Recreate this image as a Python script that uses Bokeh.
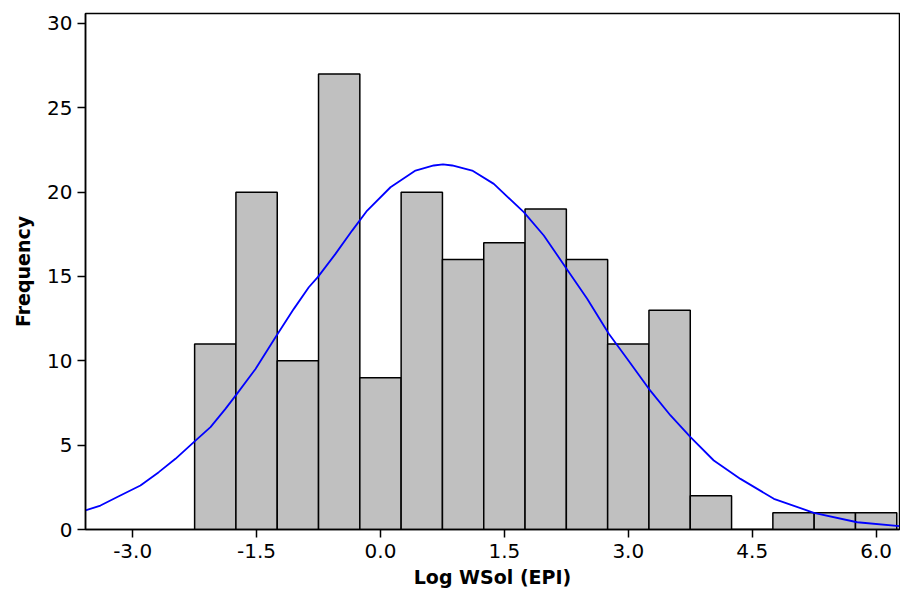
from bokeh.plotting import figure
from bokeh.models import Range1d, FixedTicker, CustomJSTickFormatter
from bokeh.embed import file_html
from bokeh.resources import INLINE

# Histogram bins (bin edges at 0.5 spacing)
bin_left = [-2.25, -1.75, -1.25, -0.75, -0.25, 0.25, 0.75, 1.25, 1.75, 2.25,
            2.75, 3.25, 3.75, 4.25, 4.75, 5.25, 5.75]
bin_right = [-1.75, -1.25, -0.75, -0.25, 0.25, 0.75, 1.25, 1.75, 2.25, 2.75,
             3.25, 3.75, 4.25, 4.75, 5.25, 5.75, 6.25]
counts = [11, 20, 10, 27, 9, 20, 16, 17, 19, 16, 11, 13, 2, 0, 1, 1, 1]

# Fitted normal curve
curve_x = [-3.571, -3.39, -3.168, -2.906, -2.684, -2.482, -2.260, -2.058, -1.877,
           -1.747, -1.513, -1.271, -1.049, -0.868, -0.759, -0.545, -0.343, -0.161,
           0.121, 0.424, 0.645, 0.757, 0.868, 1.11, 1.372, 1.735, 1.977, 2.240,
           2.502, 2.764, 2.986, 3.249, 3.511, 3.753, 4.035, 4.358, 4.762, 5.246,
           5.771, 6.283]
curve_y = [1.13, 1.42, 1.97, 2.61, 3.40, 4.19, 5.18, 6.07, 7.15,
           7.98, 9.52, 11.40, 13.08, 14.36, 14.96, 16.34, 17.72, 18.91,
           20.29, 21.28, 21.58, 21.64, 21.58, 21.28, 20.49, 18.81, 17.43, 15.55,
           13.68, 11.60, 10.12, 8.34, 6.76, 5.47, 4.09, 3.00, 1.82, 0.99,
           0.43, 0.20]

x_ticks = [-3.0, -1.5, 0.0, 1.5, 3.0, 4.5, 6.0]
y_ticks = [0, 5, 10, 15, 20, 25, 30]

FONT = "DejaVu Sans"

p = figure(width=900, height=595, output_backend="svg", toolbar_location=None,
           x_range=Range1d(-3.571, 6.283), y_range=Range1d(0, 30.59),
           min_border_left=85, min_border_right=1, min_border_top=13,
           min_border_bottom=66)
p.xgrid.visible = False
p.ygrid.visible = False
p.background_fill_color = "white"
p.border_fill_color = "white"
p.outline_line_color = "black"
p.outline_line_width = 1.5

p.quad(left=bin_left, right=bin_right, bottom=0, top=counts,
       fill_color="#C0C0C0", line_color="black", line_width=1.5)
p.line(curve_x, curve_y, line_color="#0000FF", line_width=1.8)

for ax in (p.xaxis[0], p.yaxis[0]):
    ax.axis_line_color = "black"
    ax.axis_line_width = 1.5
    ax.major_tick_line_color = "black"
    ax.major_tick_line_width = 1.5
    ax.major_tick_out = 8
    ax.major_tick_in = 0
    ax.minor_tick_line_color = None
    ax.major_label_text_font = FONT
    ax.major_label_text_font_size = "20px"
    ax.major_label_text_color = "black"
    ax.axis_label_text_font = FONT
    ax.axis_label_text_font_size = "19px"
    ax.axis_label_text_font_style = "bold"
    ax.axis_label_text_color = "black"

p.xaxis.ticker = FixedTicker(ticks=x_ticks)
p.yaxis.ticker = FixedTicker(ticks=y_ticks)
p.xaxis.formatter = CustomJSTickFormatter(code="return tick.toFixed(1);")
p.yaxis.formatter = CustomJSTickFormatter(code="return tick.toFixed(0);")
p.xaxis.axis_label = "Log WSol (EPI)"
p.yaxis.axis_label = "Frequency"
p.xaxis.axis_label_standoff = 5
p.yaxis.axis_label_standoff = 10
p.xaxis.major_label_standoff = 6
p.yaxis.major_label_standoff = 5

open("out.html", "w").write(file_html(p, INLINE))
